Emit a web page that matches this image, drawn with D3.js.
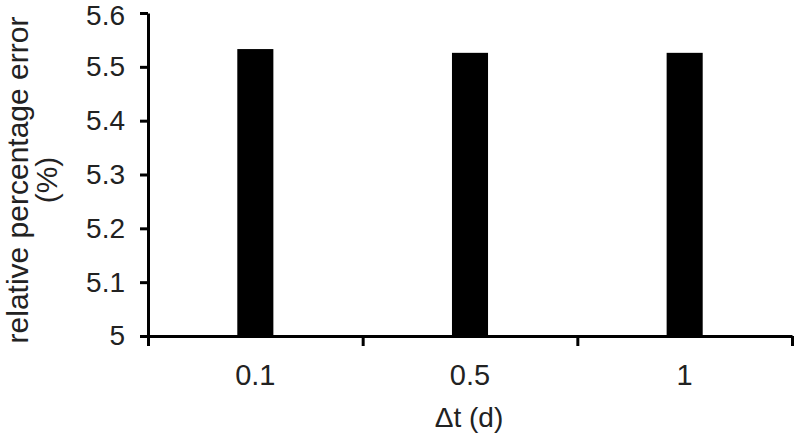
<!DOCTYPE html>
<html>
<head>
<meta charset="utf-8">
<script src="https://cdn.jsdelivr.net/npm/d3@7"></script>
<style>
  html, body { margin: 0; padding: 0; background: #fff; }
  svg { display: block; font-family: "Liberation Sans", Arial, sans-serif; }
</style>
</head>
<body>
<svg id="chart" width="795" height="437"></svg>
<script>
const categories = ["0.1", "0.5", "1"];
const values = [5.533, 5.526, 5.526];
const yTicks = [5, 5.1, 5.2, 5.3, 5.4, 5.5, 5.6];
const yLabelLines = ["relative percentage error", "(%)"];
const xLabel = "\u0394t (d)";

const W = 795, H = 437;
const margin = { left: 148, right: 3, top: 13, bottom: 101 };
const svg = d3.select("#chart");
const g = svg.append("g").attr("transform", `translate(${margin.left},${margin.top})`);
const iw = W - margin.left - margin.right;
const ih = H - margin.top - margin.bottom;

const y = d3.scaleLinear().domain([5, 5.6]).range([ih, 0]);
const x = d3.scaleBand().domain(categories).range([0, iw]).paddingInner(0.832).paddingOuter(0.416);
const xEdges = d3.scaleLinear().domain([0, categories.length]).range([0, iw]);

// bars
g.selectAll("rect.bar").data(values).enter().append("rect")
  .attr("class", "bar")
  .attr("x", (d, i) => x(categories[i]))
  .attr("width", x.bandwidth())
  .attr("y", d => y(d))
  .attr("height", d => ih - y(d))
  .attr("fill", "#000");

// y axis
const yAxis = g.append("g")
  .call(d3.axisLeft(y).tickValues(yTicks).tickFormat(d => String(+d.toFixed(1))).tickSize(8).tickSizeOuter(0).tickPadding(15));
yAxis.select(".domain").attr("stroke", "#000").attr("stroke-width", 3);
yAxis.selectAll(".tick line").attr("stroke", "#000").attr("stroke-width", 3);
yAxis.selectAll(".tick text").attr("font-size", 28).attr("fill", "#222").attr("font-family", "Liberation Sans, Arial, sans-serif");
// keep the top label fully inside the picture
yAxis.selectAll(".tick text").filter(d => d === yTicks[yTicks.length - 1]).attr("y", 3);

// x axis (ticks at category boundaries)
const xAxis = g.append("g").attr("transform", `translate(0,${ih})`)
  .call(d3.axisBottom(xEdges).tickValues(d3.range(categories.length + 1)).tickFormat("").tickSize(10).tickSizeOuter(0));
xAxis.select(".domain").attr("stroke", "#000").attr("stroke-width", 3);
xAxis.selectAll(".tick line").attr("stroke", "#000").attr("stroke-width", 3);

// x category labels
g.append("g").selectAll("text").data(categories).enter().append("text")
  .attr("x", d => x(d) + x.bandwidth() / 2)
  .attr("y", 385 - margin.top)
  .attr("text-anchor", "middle")
  .attr("font-size", 29)
  .attr("fill", "#222")
  .text(d => d);

// x title
svg.append("text")
  .attr("x", margin.left + iw / 2 - 1)
  .attr("y", 427)
  .attr("text-anchor", "middle")
  .attr("font-size", 28)
  .attr("fill", "#222")
  .text(xLabel);

// y title
const yt = svg.append("text")
  .attr("transform", `translate(28,${180}) rotate(-90)`)
  .attr("text-anchor", "middle")
  .attr("font-size", 30)
  .attr("fill", "#222");
yLabelLines.forEach((t, i) => {
  yt.append("tspan").attr("x", 0).attr("dy", i === 0 ? 0 : 29).text(t);
});
</script>
</body>
</html>
